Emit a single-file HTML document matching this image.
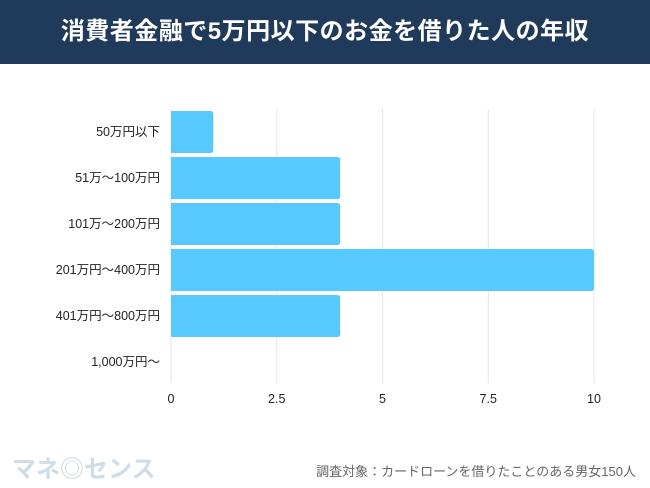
<!DOCTYPE html>
<html><head><meta charset="utf-8"><style>
body{margin:0;width:650px;height:488px;background:#fff;overflow:hidden;font-family:"Liberation Sans","Noto Sans CJK JP",sans-serif}
#hdr{position:absolute;left:0;top:0;width:650px;height:64px;background:#1f3a5a;color:#fff;font-size:24px;font-weight:bold;line-height:64px;text-align:center;letter-spacing:0.5px}
svg{position:absolute;left:0;top:0}
</style></head><body>
<div id="hdr">消費者金融で5万円以下のお金を借りた人の年収</div>
<svg id="ch" width="650" height="488"></svg>
<script>
const categories=["50万円以下","51万～100万円","101万～200万円","201万円～400万円","401万円～800万円","1,000万円～"];
const values=[1,4,4,10,4,0];
const ticks=[0,2.5,5,7.5,10];
const tickLabels=["0","2.5","5","7.5","10"];
const NS="http://www.w3.org/2000/svg";
const svg=document.getElementById('ch');
const x0=171,x1=594,xmax=10,top0=111,step=46,bh=42;
const xs=v=>x0+(x1-x0)*v/xmax;
function mk(t,a){const e=document.createElementNS(NS,t);for(const k in a)e.setAttribute(k,a[k]);svg.appendChild(e);return e;}
ticks.forEach((t,i)=>{
 const g=mk('line',{x1:xs(t),x2:xs(t),y1:109,y2:383,stroke:'#e3e3e3','stroke-width':1});
 
 
 const l=mk('text',{x:xs(t),y:403,'text-anchor':'middle','font-size':12.5,fill:'#222'});
 l.textContent=tickLabels[i];
 
 
});
categories.forEach((c,i)=>{
 const y=top0+i*step;
 const l=mk('text',{x:160,y:y+bh/2+4,'text-anchor':'end','font-size':12.5,fill:'#222'});
 l.textContent=c;
 
 
 if(values[i]>0){
  const w=xs(values[i])-x0,r=3;
  const p=mk('path',{d:`M${x0},${y}H${x0+w-r}Q${x0+w},${y} ${x0+w},${y+r}V${y+bh-r}Q${x0+w},${y+bh} ${x0+w-r},${y+bh}H${x0}Z`,fill:'#57c9fe'});
  
  
 }
});
const lg=mk('text',{x:12,y:477,'font-size':24,'font-weight':'bold',fill:'#cfdde8'});
lg.textContent='マネ◎センス';


const src=mk('text',{x:636,y:476,'text-anchor':'end','font-size':13,fill:'#666'});
src.textContent='調査対象：カードローンを借りたことのある男女150人';


</script>
</body></html>
